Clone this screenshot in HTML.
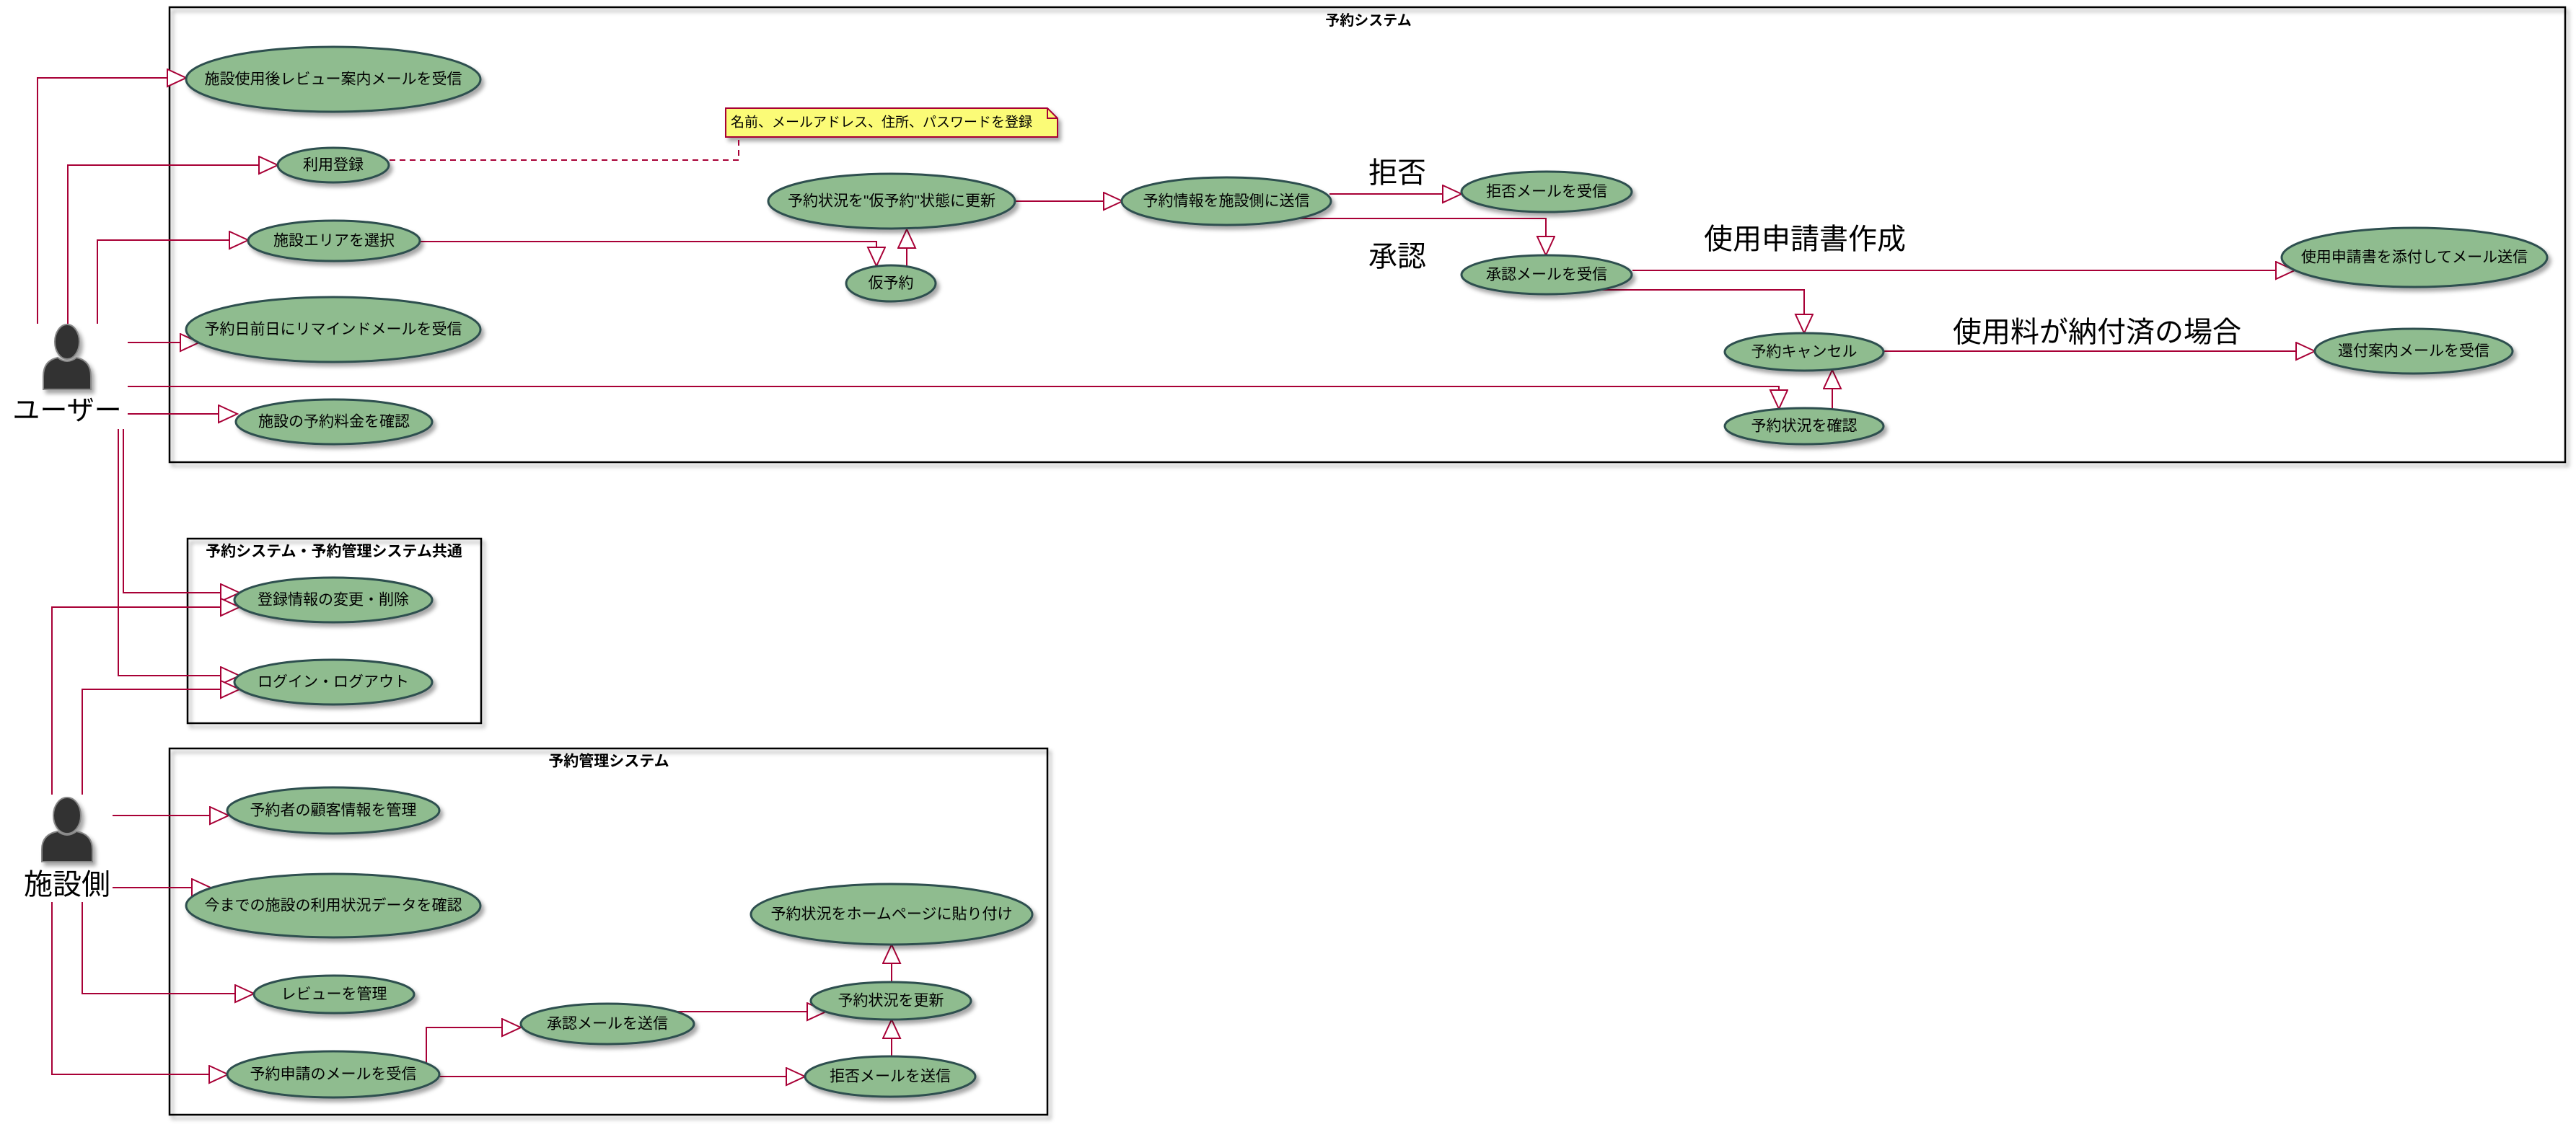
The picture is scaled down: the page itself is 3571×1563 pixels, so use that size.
<!DOCTYPE html>
<html><head><meta charset="utf-8"><style>
html,body{margin:0;padding:0;background:#fff;width:3571px;height:1563px;overflow:hidden}
svg{display:block}
text{font-family:"Liberation Sans","Noto Sans CJK JP",sans-serif;fill:#000}
.uc{fill:#8FBC8F;stroke:#2F4F4F;stroke-width:3;filter:url(#sh)}
.ut{font-size:21px;text-anchor:middle;dominant-baseline:central}
.ln{fill:none;stroke:#A80036;stroke-width:2;marker-end:url(#ar)}
.big{font-size:40px}
.fr{fill:none;stroke:#000;stroke-width:2.5;filter:url(#sh)}
</style></head><body>
<svg width="3571" height="1563" viewBox="0 0 3571 1563" xmlns="http://www.w3.org/2000/svg">
<defs>
<filter id="sh" x="-10%" y="-10%" width="130%" height="140%"><feDropShadow dx="4" dy="5" stdDeviation="3" flood-color="#000" flood-opacity="0.35"/></filter>
<marker id="ar" markerUnits="userSpaceOnUse" markerWidth="30" markerHeight="28" refX="27" refY="13" orient="auto"><path d="M1,1 L27,13 L1,25 Z" fill="#fff" stroke="#A80036" stroke-width="2"/></marker>
</defs>
<rect class="fr" x="235" y="10" width="3321" height="631"/>
<text x="1897" y="29" font-size="20" font-weight="bold" text-anchor="middle" dominant-baseline="central">予約システム</text>
<rect class="fr" x="260" y="747" width="407" height="256"/>
<text x="463" y="765" font-size="21" font-weight="bold" text-anchor="middle" dominant-baseline="central">予約システム・予約管理システム共通</text>
<rect class="fr" x="235" y="1038" width="1217" height="508"/>
<text x="844" y="1056" font-size="21" font-weight="bold" text-anchor="middle" dominant-baseline="central">予約管理システム</text>

<path d="M1006,150 L1452,150 L1466,164 L1466,190 L1006,190 Z" fill="#FBFB77" stroke="#A80036" stroke-width="2" filter="url(#sh)"/>
<path d="M1452,150 L1452,164 L1466,164" fill="none" stroke="#A80036" stroke-width="2"/>
<text x="1013" y="170" font-size="19" dominant-baseline="central">名前、メールアドレス、住所、パスワードを登録</text>
<path d="M540,222 L1024,222 L1024,192" fill="none" stroke="#A80036" stroke-width="2" stroke-dasharray="8,6"/>

<polyline class="ln" points="52,449 52,108 258,108"/>
<polyline class="ln" points="94,449 94,229 385,229"/>
<polyline class="ln" points="135,449 135,333 344,333"/>
<polyline class="ln" points="177,475 276,475"/>
<polyline class="ln" points="177,536 2466,536 2466,567"/>
<polyline class="ln" points="177,574 329,574"/>
<polyline class="ln" points="171,595 171,822 332,822"/>
<polyline class="ln" points="164,595 164,937 332,937"/>
<polyline class="ln" points="72,1102 72,842 332,842"/>
<polyline class="ln" points="114,1102 114,956 332,956"/>
<polyline class="ln" points="156,1131 317,1131"/>
<polyline class="ln" points="156,1231 292,1231"/>
<polyline class="ln" points="114,1251 114,1378 352,1378"/>
<polyline class="ln" points="72,1251 72,1490 316,1490"/>
<polyline class="ln" points="591,1475 591,1425 722,1425"/>
<polyline class="ln" points="609,1493 1116,1493"/>
<polyline class="ln" points="937,1403 1145,1403"/>
<polyline class="ln" points="1236,1465 1236,1414"/>
<polyline class="ln" points="1236,1362 1236,1310"/>
<polyline class="ln" points="582,335 1215,335 1215,369"/>
<polyline class="ln" points="1257,369 1257,318"/>
<polyline class="ln" points="1406,279 1556,279"/>
<polyline class="ln" points="1843,269 2026,269"/>
<polyline class="ln" points="1800,303 2143,303 2143,354"/>
<polyline class="ln" points="2263,375 3181,375"/>
<polyline class="ln" points="2218,402 2501,402 2501,462"/>
<polyline class="ln" points="2611,487 3209,487"/>
<polyline class="ln" points="2540,567 2540,513"/>

<text class="big" x="1937" y="240" text-anchor="middle" dominant-baseline="central">拒否</text>
<text class="big" x="1937" y="356" text-anchor="middle" dominant-baseline="central">承認</text>
<text class="big" x="2502" y="332" text-anchor="middle" dominant-baseline="central">使用申請書作成</text>
<text class="big" x="2907" y="461" text-anchor="middle" dominant-baseline="central">使用料が納付済の場合</text>

<ellipse class="uc" cx="462" cy="110" rx="204" ry="45"/><text class="ut" x="462" y="110">施設使用後レビュー案内メールを受信</text>
<ellipse class="uc" cx="462" cy="229" rx="77" ry="24"/><text class="ut" x="462" y="229">利用登録</text>
<ellipse class="uc" cx="463" cy="334" rx="119" ry="28"/><text class="ut" x="463" y="334">施設エリアを選択</text>
<ellipse class="uc" cx="462" cy="457" rx="204" ry="45"/><text class="ut" x="462" y="457">予約日前日にリマインドメールを受信</text>
<ellipse class="uc" cx="463" cy="585" rx="136" ry="31"/><text class="ut" x="463" y="585">施設の予約料金を確認</text>
<ellipse class="uc" cx="1236" cy="279" rx="171" ry="38"/><text class="ut" x="1236" y="279">予約状況を"仮予約"状態に更新</text>
<ellipse class="uc" cx="1235" cy="393" rx="62" ry="25"/><text class="ut" x="1235" y="393">仮予約</text>
<ellipse class="uc" cx="1700" cy="279" rx="145" ry="33"/><text class="ut" x="1700" y="279">予約情報を施設側に送信</text>
<ellipse class="uc" cx="2144" cy="266" rx="118" ry="28"/><text class="ut" x="2144" y="266">拒否メールを受信</text>
<ellipse class="uc" cx="2144" cy="381" rx="118" ry="27"/><text class="ut" x="2144" y="381">承認メールを受信</text>
<ellipse class="uc" cx="3347" cy="357" rx="184" ry="41"/><text class="ut" x="3347" y="357">使用申請書を添付してメール送信</text>
<ellipse class="uc" cx="2501" cy="488" rx="110" ry="26"/><text class="ut" x="2501" y="488">予約キャンセル</text>
<ellipse class="uc" cx="3346" cy="487" rx="137" ry="31"/><text class="ut" x="3346" y="487">還付案内メールを受信</text>
<ellipse class="uc" cx="2501" cy="591" rx="110" ry="25"/><text class="ut" x="2501" y="591">予約状況を確認</text>

<ellipse class="uc" cx="462" cy="832" rx="137" ry="31"/><text class="ut" x="462" y="832">登録情報の変更・削除</text>
<ellipse class="uc" cx="462" cy="946" rx="137" ry="31"/><text class="ut" x="462" y="946">ログイン・ログアウト</text>

<ellipse class="uc" cx="462" cy="1124" rx="147" ry="32"/><text class="ut" x="462" y="1124">予約者の顧客情報を管理</text>
<ellipse class="uc" cx="462" cy="1256" rx="204" ry="44"/><text class="ut" x="462" y="1256">今までの施設の利用状況データを確認</text>
<ellipse class="uc" cx="463" cy="1379" rx="111" ry="26"/><text class="ut" x="463" y="1379">レビューを管理</text>
<ellipse class="uc" cx="462" cy="1490" rx="147" ry="32"/><text class="ut" x="462" y="1490">予約申請のメールを受信</text>
<ellipse class="uc" cx="842" cy="1420" rx="120" ry="28"/><text class="ut" x="842" y="1420">承認メールを送信</text>
<ellipse class="uc" cx="1234" cy="1493" rx="118" ry="28"/><text class="ut" x="1234" y="1493">拒否メールを送信</text>
<ellipse class="uc" cx="1235" cy="1388" rx="111" ry="26"/><text class="ut" x="1235" y="1388">予約状況を更新</text>
<ellipse class="uc" cx="1236" cy="1268" rx="195" ry="42"/><text class="ut" x="1236" y="1268">予約状況をホームページに貼り付け</text>

<g fill="#333" stroke="#888" stroke-width="2" filter="url(#sh)">
<ellipse cx="93" cy="474" rx="17" ry="24"/>
<path d="M60,540 L60,522 Q60,500 80,496 Q93,506 106,496 Q126,500 126,522 L126,540 Z"/>
<ellipse cx="93" cy="1131" rx="19" ry="25"/>
<path d="M58,1195 L58,1178 Q58,1157 80,1153 Q93,1163 106,1153 Q128,1157 128,1178 L128,1195 Z"/>
</g>
<text x="93" y="570" font-size="38" text-anchor="middle" dominant-baseline="central">ユーザー</text>
<text x="93" y="1227" font-size="40" text-anchor="middle" dominant-baseline="central">施設側</text>
</svg>
</body></html>
